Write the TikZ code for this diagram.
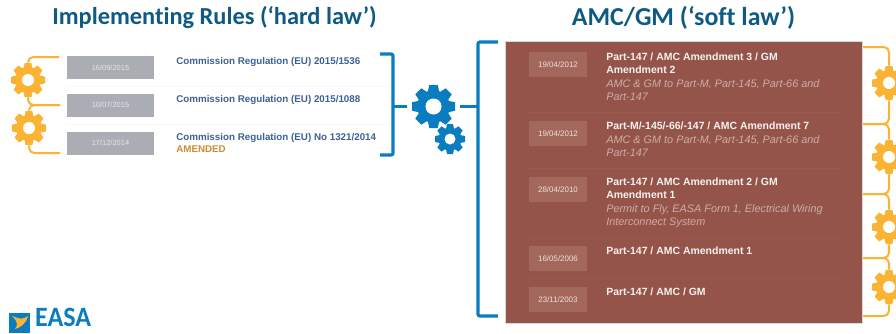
\documentclass[tikz,border=0pt]{standalone}
\usepackage{fontspec}
\setmainfont{Liberation Sans}
\newfontfamily\titlefam[Ligatures=NoCommon]{Carlito}
\usetikzlibrary{positioning}
\definecolor{easablue}{HTML}{0A7DC0}
\definecolor{headblue}{HTML}{0F5A82}
\definecolor{gearyellow}{HTML}{FAB333}
\definecolor{regblue}{HTML}{3D6194}
\definecolor{amendorange}{HTML}{CB8C35}
\definecolor{dategrey}{HTML}{ABADB5}
\definecolor{panelbrown}{HTML}{95544A}
\definecolor{panelbox}{HTML}{A4675C}
\definecolor{panelline}{HTML}{9A5A4F}
\definecolor{softgrey}{HTML}{CBAFA9}
\tikzset{
  headline/.style={font=\titlefam\bfseries\fontsize{#1}{20}\selectfont,text=headblue,inner sep=0pt},
  datebox/.style={fill=dategrey,text=white!70!dategrey,minimum width=65.25pt,minimum height=17.25pt,inner sep=0pt,font=\fontsize{5.6}{6}\selectfont},
  softdate/.style={fill=panelbox,text=white!80!panelbox,minimum width=43.5pt,minimum height=18.75pt,inner sep=0pt,font=\fontsize{5.95}{7}\selectfont},
  regtext/.style={anchor=west,inner sep=0pt,text=regblue,font=\bfseries\fontsize{7.35}{8}\selectfont},
  softtext/.style={anchor=north west,inner sep=0pt,align=left,text=white!92!panelbrown,font=\bfseries\fontsize{7.85}{9.75}\selectfont},
  softnote/.style={anchor=north west,inner sep=0pt,align=left,text=softgrey,font=\itshape\fontsize{8.15}{9.75}\selectfont},
  blueline/.style={draw=easablue,line width=2.4pt,rounded corners=1.5pt},
  yellowline/.style={draw=gearyellow,line width=1.5pt,rounded corners=4pt},
  yellowstub/.style={draw=gearyellow,line width=2.2pt},
  gearspot/.style={circle,inner sep=0pt,minimum size=#1},
  rowline/.style={draw=#1,line width=0.4pt},
  pics/gearwheel/.style n args={3}{code={
    \fill[#3] (0,0) circle (0.76*#1);
    \foreach \a in {0,45,...,315}
      \fill[#3,rotate=\a] (-0.27*#1,0.65*#1) -- (-0.2*#1,#1) -- (0.2*#1,#1) -- (0.27*#1,0.65*#1) -- cycle;
    \fill[white] (0,0) circle (#2);
  }}
}
\begin{document}
\begin{tikzpicture}[x=0.75pt,y=-0.75pt]
  \useasboundingbox (0,0) rectangle (896,333);

  \node[headline=18.3] (hardhead) at (214.5,18) {Implementing Rules (‘hard law’)};
  \node[headline=19.4] (softhead) at (683.5,18) {AMC/GM (‘soft law’)};

  \draw[rowline=black!3] (67,86) -- (390,86);
  \draw[rowline=black!3] (67,124) -- (390,124);
  \node[datebox] (hardA) at (110.5,67.5) {16/09/2015};
  \node[datebox] (hardB) at (110.5,105) {10/07/2015};
  \node[datebox] (hardC) at (110.5,143) {17/12/2014};
  \node[regtext] (regA) at (176,62) {Commission Regulation (EU) 2015/1536};
  \node[regtext] (regB) at (176,100) {Commission Regulation (EU) 2015/1088};
  \node[regtext] (regC) at (176,137.5) {Commission Regulation (EU) No 1321/2014};
  \node[regtext,text=amendorange,below=2.5pt of regC.south west,anchor=north west] (amended) {AMENDED};

  \node[fill=panelbrown,draw=black!15,line width=0.4pt,minimum width=267.75pt,minimum height=211.5pt,inner sep=0pt] (panel) at (683.5,182) {};
  \draw[rowline=panelline] (529,112) -- (840,112);
  \draw[rowline=panelline] (529,168) -- (840,168);
  \draw[rowline=panelline] (529,238) -- (840,238);
  \draw[rowline=panelline] (529,278) -- (840,278);
  \node[softdate] (softA) at (558,64.5) {19/04/2012};
  \node[softdate] (softB) at (558,133.5) {19/04/2012};
  \node[softdate] (softC) at (558,189.5) {28/04/2010};
  \node[softdate] (softD) at (558,258.5) {16/05/2006};
  \node[softdate] (softE) at (558,299.5) {23/11/2003};
  \node[softtext] (partA) at (606,53) {Part-147 / AMC Amendment 3 / GM\\Amendment 2};
  \node[softnote] (noteA) at (606,79.5) {AMC \& GM to Part-M, Part-145, Part-66 and\\Part-147};
  \node[softtext] (partB) at (606,122) {Part-M/-145/-66/-147 / AMC Amendment 7};
  \node[softnote] (noteB) at (606,135.5) {AMC \& GM to Part-M, Part-145, Part-66 and\\Part-147};
  \node[softtext] (partC) at (606,178) {Part-147 / AMC Amendment 2 / GM\\Amendment 1};
  \node[softnote] (noteC) at (606,204.5) {Permit to Fly, EASA Form 1, Electrical Wiring\\Interconnect System};
  \node[softtext] (partD) at (606,247) {Part-147 / AMC Amendment 1};
  \node[softtext] (partE) at (606,288) {Part-147 / AMC / GM};

  \node[gearspot=39pt] (gearMain) at (433.5,106.5) {};
  \node[gearspot=22pt] (gearSmall) at (450,139) {};
  \node[gearspot=25.5pt] (gearLA) at (28,80) {};
  \node[gearspot=25.5pt] (gearLB) at (29,128) {};
  \node[gearspot=25.5pt] (gearRA) at (889,83) {};
  \node[gearspot=25.5pt] (gearRB) at (889,157) {};
  \node[gearspot=25.5pt] (gearRC) at (889,227) {};
  \node[gearspot=25.5pt] (gearRD) at (889,287) {};
  \pic at (gearMain) {gearwheel={21.5}{8}{easablue}};
  \pic at (gearSmall) {gearwheel={15}{5.5}{easablue}};
  \pic at (gearLA) {gearwheel={17}{6}{gearyellow}};
  \pic at (gearLB) {gearwheel={17}{6}{gearyellow}};
  \pic at (gearRA) {gearwheel={17}{6}{gearyellow}};
  \pic at (gearRB) {gearwheel={17}{6}{gearyellow}};
  \pic at (gearRC) {gearwheel={17}{6}{gearyellow}};
  \pic at (gearRD) {gearwheel={17}{6}{gearyellow}};

  \coordinate (hardTop) at (380,54);
  \coordinate (hardBot) at (380,155);
  \coordinate (hardMid) at (393,106.5);
  \coordinate (softTop) at (498,42);
  \coordinate (softBot) at (498,316);
  \coordinate (softMid) at (478,106.5);
  \draw[blueline] (hardTop) -- (393,54) -- (393,155) -- (hardBot);
  \draw[blueline] (softTop) -- (478,42) -- (478,316) -- (softBot);
  \draw[blueline] (hardMid) -- (gearMain);
  \draw[blueline] (gearMain) -- (softMid);

  \coordinate (stubLA) at (59,57);
  \coordinate (stubLB) at (60,105);
  \coordinate (stubLC) at (60,153);
  \draw[yellowline] (stubLA) -| (gearLA.north);
  \draw[yellowline] (stubLB) -| (gearLA.south);
  \draw[yellowline] (stubLB) -| (gearLB.north);
  \draw[yellowline] (stubLC) -| (gearLB.south);

  \coordinate (stubRA) at (863,47);
  \coordinate (stubRB) at (863,124);
  \coordinate (stubRC) at (863,194);
  \coordinate (stubRD) at (863,258);
  \coordinate (stubRE) at (863,316);
  \draw[yellowline] (stubRA) -| (gearRA.north);
  \draw[yellowline] (stubRB) -| (gearRA.south);
  \draw[yellowline] (stubRB) -| (gearRB.north);
  \draw[yellowline] (stubRC) -| (gearRB.south);
  \draw[yellowline] (stubRC) -| (gearRC.north);
  \draw[yellowline] (stubRD) -| (gearRC.south);
  \draw[yellowline] (stubRD) -| (gearRD.north);
  \draw[yellowline] (stubRE) -| (gearRD.south);
  \draw[yellowstub] (stubRB) -- ++(13,0);
  \draw[yellowstub] (stubRC) -- ++(13,0);
  \draw[yellowstub] (stubRD) -- ++(13,0);

  \node[fill=easablue,minimum width=15.75pt,minimum height=15pt,inner sep=0pt,anchor=north west] (logo) at (9,313) {};
  \fill[gearyellow] (12,316) .. controls (20,319) and (22,320) .. (28,316) .. controls (26,324) and (20,328) .. (15,329) .. controls (18,325) and (18,322) .. cycle;
  \node[anchor=north west,inner sep=0pt,text=easablue,xscale=0.93,font=\titlefam\bfseries\fontsize{21}{22}\selectfont] (easa) at (35,308) {EASA};
\end{tikzpicture}
\end{document}
